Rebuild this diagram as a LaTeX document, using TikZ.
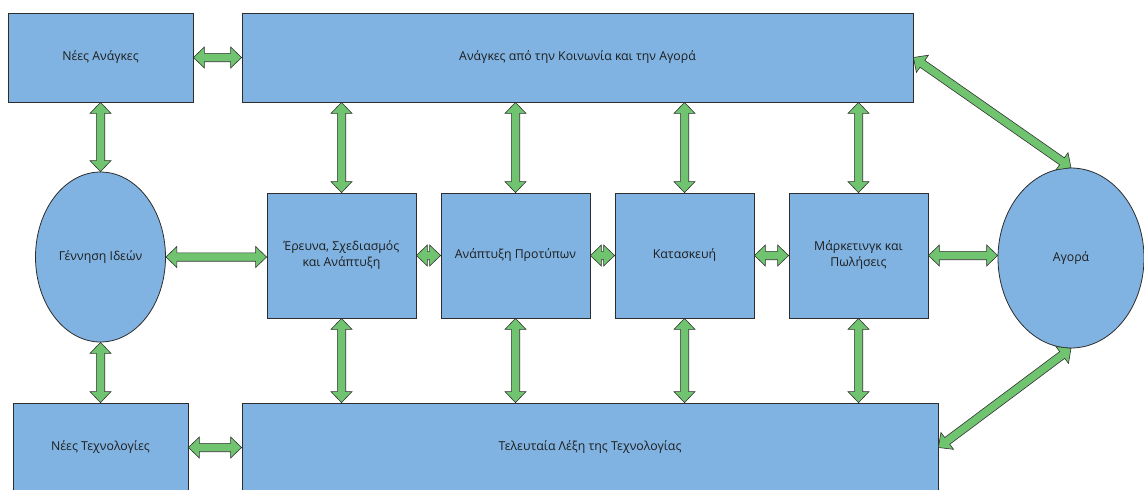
\documentclass[tikz,border=0pt]{standalone}
\usepackage{fontspec}
\setmainfont{Open Sans}
\usetikzlibrary{calc,shapes.geometric}

\definecolor{boxfill}{RGB}{128,179,225}
\definecolor{boxline}{RGB}{45,45,45}
\definecolor{arrowfill}{RGB}{112,196,112}
\definecolor{arrowline}{RGB}{50,50,50}
\definecolor{labeltext}{RGB}{30,30,30}

\tikzset{
  block/.style={draw=boxline, fill=boxfill, line width=0.8pt, rectangle,
    inner sep=0pt, align=center, text=labeltext, font=\fontsize{12.3}{16}\selectfont},
  oval/.style={block, ellipse},
  % double-headed block arrow drawn as a closed outline between two points
  dblarrow/.style={draw=arrowline, fill=arrowfill, line width=0.6pt, line join=miter,
    to path={
      let \p1=(\tikztostart), \p2=(\tikztotarget) in
      (\p1)
      -- ($(\p1)!11pt!(\p2)!10.5pt!90:(\p2)$)
      -- ($(\p1)!11pt!(\p2)!4.2pt!90:(\p2)$)
      -- ($(\p2)!11pt!(\p1)!4.2pt!-90:(\p1)$)
      -- ($(\p2)!11pt!(\p1)!10.5pt!-90:(\p1)$)
      -- (\p2)
      -- ($(\p2)!11pt!(\p1)!10.5pt!90:(\p1)$)
      -- ($(\p2)!11pt!(\p1)!4.2pt!90:(\p1)$)
      -- ($(\p1)!11pt!(\p2)!4.2pt!-90:(\p2)$)
      -- ($(\p1)!11pt!(\p2)!10.5pt!-90:(\p2)$)
      -- cycle
    }}
}

\begin{document}
\begin{tikzpicture}[x=1pt,y=-1pt]
  \clip (0,0) rectangle (1144,490);
  \fill[white] (0,0) rectangle (1144,490);

  % outer frame of boxes
  \node[block, minimum width=185, minimum height=89] (needs) at (100.5,57.5) {Νέες Ανάγκες};
  \node[block, minimum width=671, minimum height=89] (society) at (577.5,57.5) {Ανάγκες από την Κοινωνία και την Αγορά};
  \node[block, minimum width=175, minimum height=89] (newtech) at (100.5,447.5) {Νέες Τεχνολογίες};
  \node[block, minimum width=696, minimum height=89] (state) at (590,447.5) {Τελευταία Λέξη της Τεχνολογίας};

  % ideas and market
  \node[oval, minimum width=130, minimum height=170] (ideas) at (100.5,257) {Γέννηση Ιδεών};
  \node[oval, minimum width=146, minimum height=180] (market) at (1071,258) {Αγορά};

  % middle chain
  \node[block, minimum width=149, minimum height=125] (rd) at (341.5,255.5) {Έρευνα, Σχεδιασμός\\και Ανάπτυξη};
  \node[block, minimum width=149, minimum height=125] (proto) at (515.5,255.5) {Ανάπτυξη Προτύπων};
  \node[block, minimum width=139, minimum height=125] (build) at (684.5,255.5) {Κατασκευή};
  \node[block, minimum width=139, minimum height=125] (sales) at (858.5,255.5) {Μάρκετινγκ και\\Πωλήσεις};

  % connectors
  \draw[dblarrow] (needs.east) to (society.west);
  \draw[dblarrow] (newtech.east) to (state.west);
  \draw[dblarrow] (needs.south) to (ideas.north);
  \draw[dblarrow] (ideas.south) to (newtech.north);
  \draw[dblarrow] (ideas.east) to (ideas.east -| rd.west);

  \draw[dblarrow] (rd.east) to (proto.west);
  \draw[dblarrow] (proto.east) to (build.west);
  \draw[dblarrow] (build.east) to (sales.west);
  \draw[dblarrow] (sales.east) to (sales.east -| market.west);

  \foreach \bx in {rd,proto,build,sales}{
    \draw[dblarrow] (\bx.north |- society.south) to (\bx.north);
    \draw[dblarrow] (\bx.south) to (\bx.south |- state.north);
  }

  \draw[dblarrow] (society.east) to (market.north);
  \draw[dblarrow] (market.south) to (state.east);
\end{tikzpicture}
\end{document}
